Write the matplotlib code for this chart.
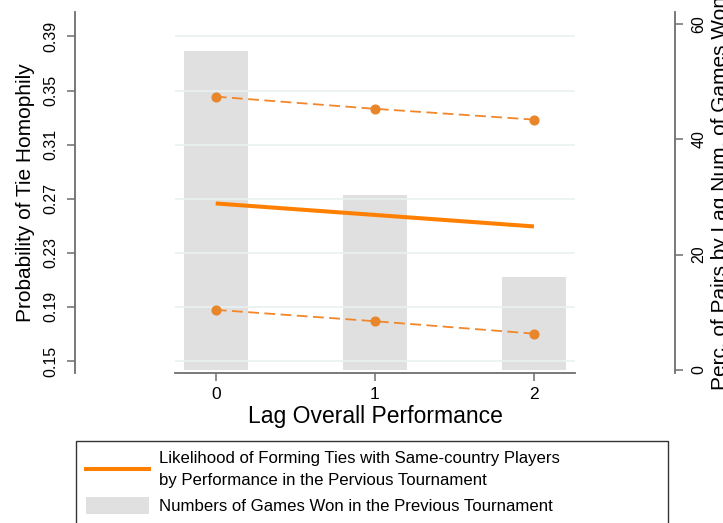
import numpy as np
import matplotlib
matplotlib.use('Agg')
import matplotlib.pyplot as plt
from matplotlib.patches import Patch
from matplotlib.lines import Line2D

# Data
lag_perf = [0, 1, 2]
tick_labels = ['0', '1', '2']
likelihood = [0.2665, 0.258, 0.2495]   # point estimate
ci_upper = [0.3455, 0.3365, 0.3285]    # upper bound
ci_lower = [0.1878, 0.1794, 0.1702]    # lower bound
perc_pairs = [55.4, 30.3, 16.1]        # share of pairs by games won

left_ticks = [0.15, 0.19, 0.23, 0.27, 0.31, 0.35, 0.39]
right_ticks = [0, 20, 40, 60]

orange = '#FF8000'
orange_dash = '#F2862A'
bar_grey = '#E0E0E0'
spine_grey = '#6E6E6E'

plt.rcParams['font.family'] = ['Liberation Sans', 'DejaVu Sans']

W, H = 723, 523
fig = plt.figure(figsize=(W / 100, H / 100), dpi=100)
ax = fig.add_axes([175 / W, 1 - 373 / H, 400 / W, 361 / H])
ax2 = ax.twinx()

# bars on the right axis, drawn behind the lines
ax2.bar(lag_perf, perc_pairs, width=0.4, color=bar_grey, zorder=1)
ax.set_zorder(ax2.get_zorder() + 1)
ax.patch.set_visible(False)

ax.plot(lag_perf, likelihood, color=orange, lw=2.9, solid_capstyle='butt', zorder=3)
for band in (ci_upper, ci_lower):
    ax.plot(lag_perf, band, color=orange_dash, lw=1.3, dashes=(6, 3),
            marker='o', markersize=6.3, markerfacecolor='#E8862C',
            markeredgecolor='#E8862C', zorder=3)

ax.set_xlim(-0.256, 2.258)
ax.set_ylim(0.1411, 0.4081)
ax2.set_ylim(-0.52, 62.08)

ax.set_yticks(left_ticks)
ax.set_yticklabels(['%.2f' % t for t in left_ticks])
ax2.set_yticks(right_ticks)
ax2.set_yticklabels([str(t) for t in right_ticks])
ax.set_xticks(lag_perf)
ax.set_xticklabels(tick_labels)

ax.grid(axis='y', color='#EAF0F0', lw=1.2, zorder=0)
ax.set_axisbelow(True)

for a in (ax, ax2):
    a.spines['top'].set_visible(False)
    for s in a.spines.values():
        s.set_color(spine_grey)
        s.set_linewidth(1.3)
ax.spines['right'].set_visible(False)
ax2.spines['left'].set_visible(False)
ax2.spines['bottom'].set_visible(False)
ax.spines['left'].set_position(('outward', 72))
ax2.spines['right'].set_position(('outward', 72))

ax.tick_params(axis='y', length=6, width=1.1, color=spine_grey, labelsize=11.5,
               pad=6, labelrotation=90)
ax2.tick_params(axis='y', length=6, width=1.1, color=spine_grey, labelsize=11.5,
                pad=6, labelrotation=90)
ax.tick_params(axis='x', length=6, width=1.1, color=spine_grey, labelsize=12.5, pad=4)
plt.setp(ax.get_yticklabels(), va='center')
plt.setp(ax2.get_yticklabels(), va='center')

ax.set_ylabel('Probability of Tie Homophily', fontsize=15, labelpad=6)
ax2.set_ylabel('Perc. of Pairs by Lag Num. of Games Won', fontsize=15, labelpad=3)
ax.set_xlabel('Lag Overall Performance', fontsize=16.5, labelpad=2)

handles = [Line2D([], [], color=orange, lw=2.9),
           Patch(facecolor=bar_grey, edgecolor='none')]
labels = ['Likelihood of Forming Ties with Same-country Players\nby Performance in the Pervious Tournament',
          'Numbers of Games Won in the Previous Tournament']
leg = fig.legend(handles, labels, loc='upper left',
                 bbox_to_anchor=(76 / W, 1 - 441 / H, 592 / W, 0.0), mode='expand',
                 borderaxespad=0, fontsize=12.1, frameon=True, fancybox=False,
                 framealpha=1, edgecolor='#333333', handlelength=3.75, handleheight=1.2,
                 handletextpad=0.6, borderpad=0.6, labelspacing=0.5)
leg.get_frame().set_linewidth(1.0)
for t in leg.get_texts():
    t.set_linespacing(1.6)

fig.savefig('out.png', dpi=100)
